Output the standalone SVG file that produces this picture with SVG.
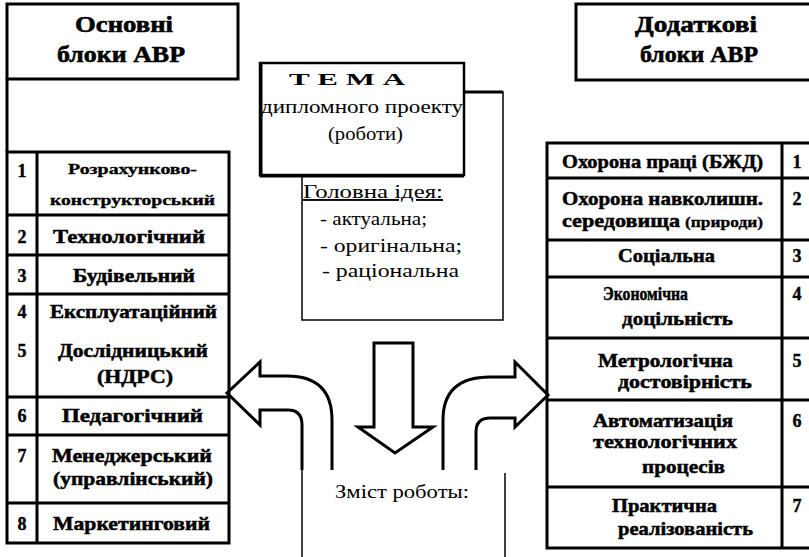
<svg xmlns="http://www.w3.org/2000/svg" width="809" height="557" viewBox="0 0 809 557" font-family="'Liberation Serif','DejaVu Serif','Times New Roman',serif">
<style>
.bx{fill:#fff;stroke:#000;stroke-width:3}
.ln{stroke:#000;stroke-width:3;fill:none}
.th{stroke:#000;stroke-width:1.5;fill:none}
.ar{stroke:#000;stroke-width:3;fill:none;stroke-linejoin:miter}
text{font-family:'Liberation Serif','DejaVu Serif','Times New Roman',serif;fill:#000}
.h{font-family:'Liberation Serif','DejaVu Serif',serif;font-size:24px;font-weight:bold;stroke:#000;stroke-width:0.6}
.b{font-family:'Liberation Serif','DejaVu Serif',serif;font-size:19px;font-weight:bold;stroke:#000;stroke-width:0.5}
.s{font-family:'Liberation Serif','DejaVu Serif',serif;font-size:14px;font-weight:bold;stroke:#000;stroke-width:0.3}
.n{font-family:'Liberation Serif','DejaVu Serif',serif;font-size:18px;font-weight:bold;text-anchor:middle;stroke:#000;stroke-width:0.4}
.r{font-family:'Liberation Serif','DejaVu Serif',serif;font-size:19px}
.t{font-family:'Liberation Serif','DejaVu Serif',serif;font-size:16px;font-weight:bold}
</style>
<rect width="809" height="557" fill="#fff"/>

<g id="left-header">
<rect class="bx" x="7" y="4" width="231" height="75"/>
<text class="h" x="75" y="32" textLength="98" lengthAdjust="spacingAndGlyphs">Основні</text>
<text class="h" x="57" y="62" textLength="128" lengthAdjust="spacingAndGlyphs">блоки АВР</text>
<line class="ln" x1="7" y1="79" x2="7" y2="152"/>
</g>

<g id="left-blocks">
<rect class="bx" x="7" y="152" width="222" height="391"/>
<line class="ln" x1="37" y1="152" x2="37" y2="543"/>
<line class="ln" x1="7" y1="215" x2="229" y2="215"/>
<line class="ln" x1="7" y1="255" x2="229" y2="255"/>
<line class="ln" x1="7" y1="294" x2="229" y2="294"/>
<line class="ln" x1="7" y1="397" x2="229" y2="397"/>
<line class="ln" x1="7" y1="435" x2="229" y2="435"/>
<line class="ln" x1="7" y1="503" x2="229" y2="503"/>
<g id="left-1"><text class="n" x="22" y="177">1</text>
<text class="s" x="68" y="174" textLength="129" lengthAdjust="spacingAndGlyphs">Розрахунково-</text>
<text class="s" x="50" y="205" textLength="165" lengthAdjust="spacingAndGlyphs">конструкторський</text></g>
<g id="left-2"><text class="n" x="22" y="243">2</text>
<text class="b" x="53" y="243" textLength="152" lengthAdjust="spacingAndGlyphs">Технологічний</text></g>
<g id="left-3"><text class="n" x="22" y="282">3</text>
<text class="b" x="73" y="282" textLength="122" lengthAdjust="spacingAndGlyphs">Будівельний</text></g>
<g id="left-4"><text class="n" x="22" y="318">4</text>
<text class="b" x="50" y="318" textLength="167" lengthAdjust="spacingAndGlyphs">Експлуатаційний</text></g>
<g id="left-5"><text class="n" x="22" y="357">5</text>
<text class="b" x="58" y="357" textLength="150" lengthAdjust="spacingAndGlyphs">Дослідницький</text>
<text class="b" x="97" y="383" textLength="76" lengthAdjust="spacingAndGlyphs">(НДРС)</text></g>
<g id="left-6"><text class="n" x="22" y="422">6</text>
<text class="b" x="62" y="422" textLength="141" lengthAdjust="spacingAndGlyphs">Педагогічний</text></g>
<g id="left-7"><text class="n" x="22" y="462">7</text>
<text class="b" x="52" y="462" textLength="160" lengthAdjust="spacingAndGlyphs">Менеджерський</text>
<text class="b" x="53" y="485" textLength="160" lengthAdjust="spacingAndGlyphs">(управлінський)</text></g>
<g id="left-8"><text class="n" x="22" y="530">8</text>
<text class="b" x="53" y="530" textLength="157" lengthAdjust="spacingAndGlyphs">Маркетинговий</text></g>
</g>

<g id="idea">
<rect class="th" x="302" y="92" width="201" height="228"/>
<text class="r" x="303" y="198" textLength="140" lengthAdjust="spacingAndGlyphs" text-decoration="underline">Головна ідея:</text>
<text class="r" x="320" y="225" textLength="107" lengthAdjust="spacingAndGlyphs">- актуальна;</text>
<text class="r" x="320" y="252" textLength="142" lengthAdjust="spacingAndGlyphs">- оригінальна;</text>
<text class="r" x="322" y="277" textLength="137" lengthAdjust="spacingAndGlyphs">- раціональна</text>
</g>

<g id="tema">
<rect x="260" y="63" width="204" height="112" fill="#fff" stroke="#000" stroke-width="2.5"/>
<line class="ln" x1="261" y1="63" x2="261" y2="177"/>
<line class="ln" x1="260" y1="176" x2="464" y2="176"/>
<text class="t" x="289" y="85" textLength="116" lengthAdjust="spacingAndGlyphs">Т Е М А</text>
<text class="r" x="261" y="113" textLength="202" lengthAdjust="spacingAndGlyphs">дипломного проекту</text>
<text class="r" x="328" y="140" textLength="75" lengthAdjust="spacingAndGlyphs">(роботи)</text>
</g>

<g id="content">
<line class="th" x1="302" y1="470" x2="302" y2="557"/>
<line class="th" x1="505" y1="473" x2="505" y2="557"/>
<text class="r" x="335" y="498" textLength="134" lengthAdjust="spacingAndGlyphs">Зміст роботы:</text>
</g>

<g id="right-header">
<rect class="bx" x="576" y="4" width="240" height="76"/>
<text class="h" x="635" y="32" textLength="122" lengthAdjust="spacingAndGlyphs">Додаткові</text>
<text class="h" x="640" y="62" textLength="118" lengthAdjust="spacingAndGlyphs">блоки АВР</text>
</g>

<g id="right-blocks">
<rect class="bx" x="547" y="143" width="270" height="405"/>
<line class="ln" x1="782" y1="143" x2="782" y2="548"/>
<line class="ln" x1="547" y1="178" x2="809" y2="178"/>
<line class="ln" x1="547" y1="240" x2="809" y2="240"/>
<line class="ln" x1="547" y1="277" x2="809" y2="277"/>
<line class="ln" x1="547" y1="338" x2="809" y2="338"/>
<line class="ln" x1="547" y1="400" x2="809" y2="400"/>
<line class="ln" x1="547" y1="487" x2="809" y2="487"/>
<g id="right-1"><text class="b" x="562" y="168" textLength="201" lengthAdjust="spacingAndGlyphs">Охорона праці (БЖД)</text>
<text class="n" x="797" y="168">1</text></g>
<g id="right-2"><text class="b" x="562" y="205" textLength="201" lengthAdjust="spacingAndGlyphs">Охорона навколишн.</text>
<text class="b" x="562" y="227" textLength="118" lengthAdjust="spacingAndGlyphs">середовища</text>
<text class="s" x="685" y="227" textLength="78" lengthAdjust="spacingAndGlyphs">(природи)</text>
<text class="n" x="797" y="205">2</text></g>
<g id="right-3"><text class="b" x="618" y="262" textLength="97" lengthAdjust="spacingAndGlyphs">Соціальна</text>
<text class="n" x="797" y="262">3</text></g>
<g id="right-4"><text class="b" x="603" y="300" textLength="85" lengthAdjust="spacingAndGlyphs">Экономічна</text>
<text class="b" x="622" y="325" textLength="111" lengthAdjust="spacingAndGlyphs">доцільність</text>
<text class="n" x="797" y="300">4</text></g>
<g id="right-5"><text class="b" x="598" y="367" textLength="135" lengthAdjust="spacingAndGlyphs">Метрологічна</text>
<text class="b" x="618" y="388" textLength="134" lengthAdjust="spacingAndGlyphs">достовірність</text>
<text class="n" x="797" y="367">5</text></g>
<g id="right-6"><text class="b" x="593" y="427" textLength="140" lengthAdjust="spacingAndGlyphs">Автоматизація</text>
<text class="b" x="593" y="448" textLength="144" lengthAdjust="spacingAndGlyphs">технологічних</text>
<text class="b" x="642" y="473" textLength="83" lengthAdjust="spacingAndGlyphs">процесів</text>
<text class="n" x="797" y="427">6</text></g>
<g id="right-7"><text class="b" x="612" y="512" textLength="105" lengthAdjust="spacingAndGlyphs">Практична</text>
<text class="b" x="618" y="535" textLength="135" lengthAdjust="spacingAndGlyphs">реалізованість</text>
<text class="n" x="797" y="512">7</text></g>
</g>

<g id="connectors">
<line class="ln" x1="464" y1="92" x2="503" y2="92" stroke-width="1.5"/>
<path class="ar" d="M374,343 L413,343 L413,427 L433,427 L395,453 L358,427 L374,427 Z"/>
<path class="ar" d="M332,470 L332,420 Q332,376 287,376 L260,376 L260,362 L227,393 L260,425 L260,410 L288,410 Q302,410 302,425 L302,470"/>
<path class="ar" d="M443,470 L443,420 Q443,377 490,377 L515,377 L515,362 L548,395 L515,427 L515,418 L490,418 Q476,418 476,432 L476,470"/>
</g>
</svg>
